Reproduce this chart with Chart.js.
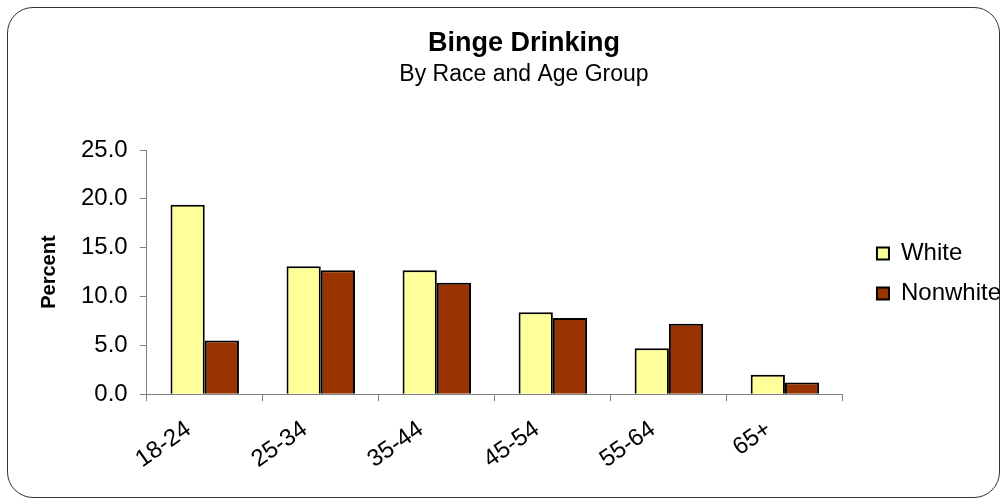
<!doctype html>
<html>
<head>
	<title>Binge Drinking</title>
	<script src="https://cdn.jsdelivr.net/npm/chart.js@4/dist/chart.umd.min.js"></script>
	<style>
		body {
			margin: 0;
			background: #fff;
		}

		.frame {
			position: absolute;
			left: 7px;
			top: 7px;
			width: 991px;
			height: 489px;
			border: 1.5px solid #333;
			border-radius: 26px;
		}

		#canvas-holder {
			position: absolute;
			left: 0;
			top: 0;
			width: 1004px;
			height: 499px;
		}
	</style>
</head>
<body>
	<div class="frame"></div>
	<div id="canvas-holder">
		<canvas id="chart-area"></canvas>
	</div>
	<script>
		var ageGroups = ['18-24', '25-34', '35-44', '45-54', '55-64', '65+'];
		var white = [19.4, 13.1, 12.7, 8.4, 4.7, 2.0];
		var nonwhite = [5.5, 12.7, 11.4, 7.8, 7.2, 1.2];

		var font = "'Liberation Sans', Arial, sans-serif";

		var config = {
			type: 'bar',
			data: {
				labels: ageGroups,
				datasets: [{
					label: 'White',
					data: white,
					backgroundColor: '#FFFF99',
					borderColor: '#000',
					borderWidth: 2
				}, {
					label: 'Nonwhite',
					data: nonwhite,
					backgroundColor: '#993300',
					borderColor: '#000',
					borderWidth: 2
				}]
			},
			options: {
				responsive: true,
				maintainAspectRatio: false,
				animation: false,
				categoryPercentage: 0.59,
				barPercentage: 1.0,
				layout: {
					padding: { top: 27, left: 37, right: -7, bottom: 11 }
				},
				plugins: {
					title: {
						display: true,
						text: 'Binge Drinking',
						color: '#000',
						font: { family: font, size: 27, weight: 'bold' },
						padding: 0
					},
					subtitle: {
						display: true,
						text: 'By Race and Age Group',
						color: '#000',
						font: { family: font, size: 23 },
						padding: { top: 1, bottom: 62 }
					},
					legend: {
						position: 'right',
						align: 'center',
						// blank title only pushes the entries down
						title: {
							display: true,
							text: ' ',
							font: { size: 10 },
							padding: { top: 20, bottom: 0 }
						},
						labels: {
							color: '#000',
							font: { family: font, size: 24 },
							boxWidth: 12,
							boxHeight: 12,
							padding: 16
						}
					},
					tooltip: { enabled: false }
				},
				scales: {
					x: {
						grid: {
							offset: true,
							drawOnChartArea: false,
							tickLength: 7,
							color: '#808080'
						},
						border: { color: '#808080' },
						ticks: {
							color: '#000',
							font: { family: font, size: 24 },
							minRotation: 35,
							maxRotation: 35,
							padding: 14,
							labelOffset: -16
						}
					},
					y: {
						min: 0,
						max: 25,
						grid: {
							drawOnChartArea: false,
							tickLength: 7,
							color: '#808080'
						},
						border: { color: '#808080' },
						ticks: {
							stepSize: 5,
							color: '#000',
							font: { family: font, size: 24 },
							padding: 12,
							callback: function (v) { return v.toFixed(1); }
						},
						title: {
							display: true,
							text: 'Percent',
							color: '#000',
							font: { family: font, size: 20, weight: 'bold' },
							padding: { top: 0, bottom: 8 }
						}
					},
					// empty axis on the right, only keeps a gap before the legend
					gap: {
						position: 'right',
						display: true,
						grid: { display: false },
						border: { display: false },
						ticks: { display: false },
						afterFit: function (scale) { scale.width = 18; }
					}
				}
			}
		};

		window.onload = function () {
			var ctx = document.getElementById('chart-area').getContext('2d');
			window.myBar = new Chart(ctx, config);
		};
	</script>
</body>
</html>
